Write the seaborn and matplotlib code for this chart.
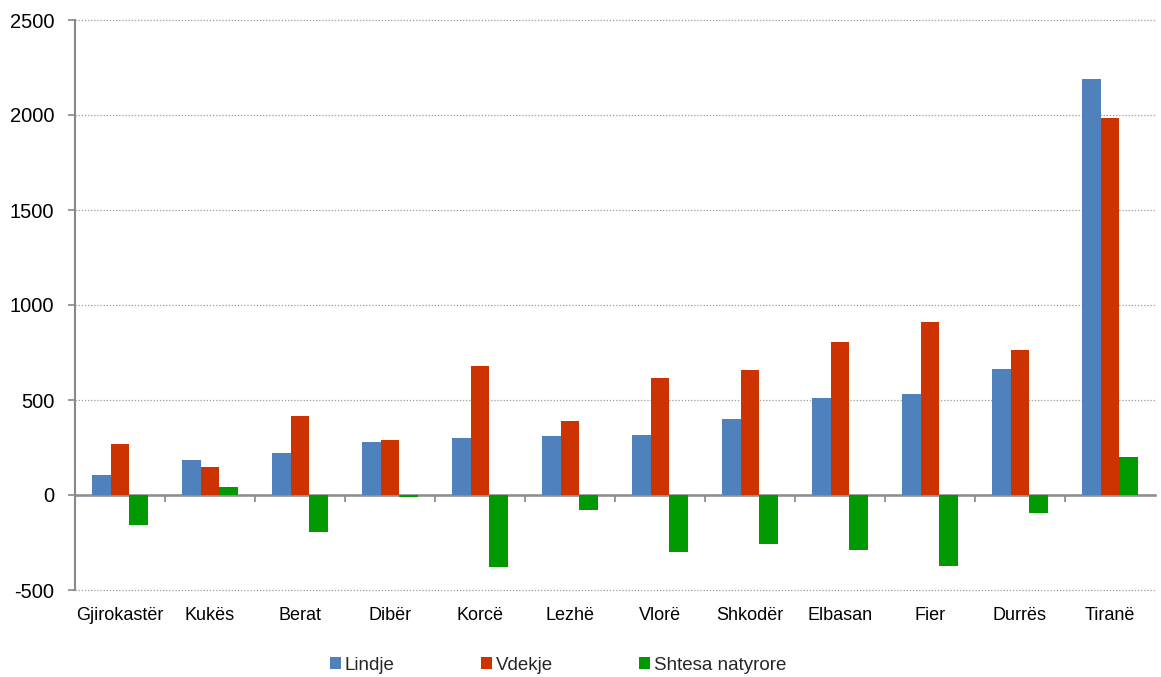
import matplotlib
matplotlib.use("Agg")
import matplotlib.pyplot as plt
import seaborn as sns
import pandas as pd
import numpy as np

categories = ["Gjirokastër", "Kukës", "Berat", "Dibër", "Korcë", "Lezhë",
              "Vlorë", "Shkodër", "Elbasan", "Fier", "Durrës", "Tiranë"]
lindje = [105, 186, 223, 279, 300, 308, 314, 402, 512, 532, 665, 2191]
vdekje = [266, 145, 417, 291, 679, 387, 614, 659, 805, 911, 761, 1986]
shtesa = [-160, 42, -195, -10, -379, -79, -300, -256, -292, -376, -97, 202]
series_names = ["Lindje", "Vdekje", "Shtesa natyrore"]
colors = ["#4F81BD", "#CC3300", "#009900"]
yticks = [-500, 0, 500, 1000, 1500, 2000, 2500]

sns.set_theme(style="white")
plt.rcParams['font.family'] = ['Liberation Sans', 'DejaVu Sans']

df = pd.DataFrame({
    "cat": categories * 3,
    "val": lindje + vdekje + shtesa,
    "series": [series_names[0]] * 12 + [series_names[1]] * 12 + [series_names[2]] * 12,
})

fig = plt.figure(figsize=(11.61, 6.77), dpi=100)
ax = fig.add_axes([75/1161, 87/677, 1080/1161, 570/677])

sns.barplot(data=df, x="cat", y="val", hue="series", palette=colors,
            width=0.63, ax=ax, legend=True, saturation=1, linewidth=0)

ax.set_ylim(-500, 2500)
ax.set_xlim(-0.5, 11.5)
ax.set_yticks(yticks)
ax.set_yticklabels([str(v) for v in yticks], fontsize=14.5)
ax.yaxis.grid(True, linestyle=(0, (1, 1.5)), color="#999999", linewidth=0.9)
for gl in ax.yaxis.get_gridlines():
    gl.set_clip_on(False)
ax.set_axisbelow(True)
ax.set_xlabel("")
ax.set_ylabel("")
for s in ["top", "right", "bottom"]:
    ax.spines[s].set_visible(False)
ax.spines["left"].set_color("#888888")
ax.spines["left"].set_linewidth(1.5)
ax.tick_params(axis="y", which="major", left=True, length=5, color="#888888",
               width=1.2, pad=10, labelcolor="black")
ax.tick_params(axis="x", which="major", bottom=False, length=0, pad=12,
               labelsize=13, labelcolor="black")

# zero axis line with tick marks between categories
sec = ax.secondary_xaxis(1/6)
sec.set_xticks(np.arange(0.5, 11.5, 1.0))
sec.set_xticklabels([])
sec.spines["bottom"].set_color("#888888")
sec.spines["bottom"].set_linewidth(1.8)
sec.tick_params(axis="x", length=5, color="#888888", width=1.2, direction="out")

leg = ax.get_legend()
handles = leg.legend_handles
leg.remove()
fig.legend(handles, series_names, loc="center", bbox_to_anchor=(558/1161, 1 - 665/677),
           ncol=3, frameon=False, fontsize=13.5, handlelength=0.6, handleheight=0.6,
           handletextpad=0.2, columnspacing=4.6, borderaxespad=0)

fig.savefig("out.png", dpi=100)
